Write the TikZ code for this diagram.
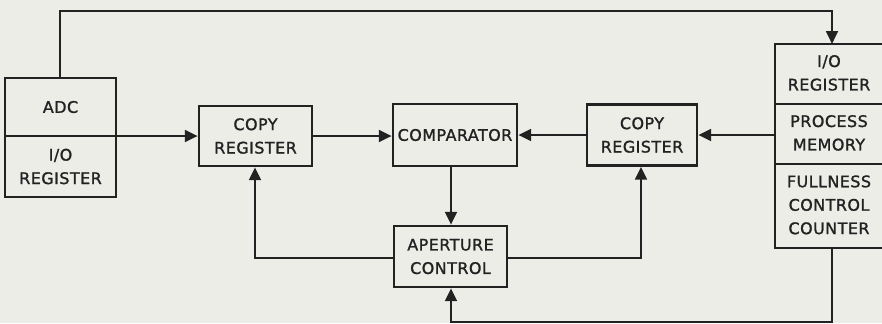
\documentclass[tikz,border=0pt]{standalone}
\usepackage{fontspec}
\setmainfont{DejaVu Sans}[LetterSpace=3,FakeBold=1.4]
\usetikzlibrary{arrows.meta}
\definecolor{bg}{HTML}{EDEDE8}
\definecolor{ink}{HTML}{222222}
\newcommand{\rtxt}[1]{\begin{tabular}{@{}c@{}}#1\end{tabular}\hspace*{0.36cm}}
\begin{document}
\begin{tikzpicture}[x=0.03cm,y=-0.03cm,
  box/.style={draw=ink,line width=2.2pt,text=ink,align=center,inner sep=0pt,
    font=\fontsize{13.6}{20}\selectfont},
  rbox/.style={text=ink,inner sep=0pt,outer sep=0pt,
    minimum width=3.6cm,font=\fontsize{13.6}{20}\selectfont},
  conn/.style={draw=ink,line width=2.2pt},
  arr/.style={conn,-{Triangle[length=11pt,width=10pt]}}]
\fill[bg] (0,0) rectangle (882,323);
\clip (0,0) rectangle (882,323);
\useasboundingbox (0,0) rectangle (882,323);
% left block
\node[box,minimum width=3.33cm,minimum height=1.74cm] (adc) at (60.5,107) {ADC};
\node[box,minimum width=3.33cm,minimum height=1.83cm] (io1) at (60.5,166.5) {I/O\\REGISTER};
% copy register 1
\node[box,minimum width=3.39cm,minimum height=1.8cm] (cr1) at (255.5,136) {COPY\\REGISTER};
% comparator
\node[box,minimum width=3.72cm,minimum height=1.86cm] (comp) at (455,135) {COMPARATOR};
% aperture control
\node[box,minimum width=3.39cm,minimum height=1.83cm] (ap) at (450.5,256.5) {APERTURE\\CONTROL};
% copy register 2
\node[box,minimum width=3.3cm,minimum height=1.83cm] (cr2) at (642,135) {COPY\\REGISTER};
% right block (extends past the right edge of the picture)
\node[rbox,minimum height=1.8cm] (io2) at (835,74) {\rtxt{I/O\\REGISTER}};
\node[rbox,minimum height=1.8cm] (pm) at (835,134) {\rtxt{PROCESS\\MEMORY}};
\node[rbox,minimum height=2.52cm] (fcc) at (835,206) {\rtxt{FULLNESS\\CONTROL\\COUNTER}};
\draw[conn] (io2.north east) -- (io2.north west) -- (fcc.south west) -- (fcc.south east);
\draw[conn] (io2.south west) -- (io2.south east);
\draw[conn] (pm.south west) -- (pm.south east);
% junction coordinates
\coordinate (t1) at (60,11);
\coordinate (t2) at (832,11);
\coordinate (l1) at (255,258);
\coordinate (r1) at (641,258);
\coordinate (b1) at (832,322);
\coordinate (b2) at (451,322);
\coordinate (m1) at (0,136);
\coordinate (m2) at (0,135);
% connectors
\draw[arr] (adc.north -| t1) -- (t1) -- (t2) -- (t2 |- io2.north);
\draw[arr] (io1.east |- m1) -- (cr1.west |- m1);
\draw[arr] (cr1.east |- m1) -- (comp.west |- m1);
\draw[arr] (cr2.west |- m2) -- (comp.east |- m2);
\draw[arr] (pm.west |- m2) -- (cr2.east |- m2);
\draw[arr] (comp.south -| b2) -- (ap.north -| b2);
\draw[arr] (ap.west |- l1) -- (l1) -- (l1 |- cr1.south);
\draw[arr] (ap.east |- r1) -- (r1) -- (r1 |- cr2.south);
\draw[arr] (fcc.south -| b1) -- (b1) -- (b2) -- (b2 |- ap.south);
\end{tikzpicture}
\end{document}
